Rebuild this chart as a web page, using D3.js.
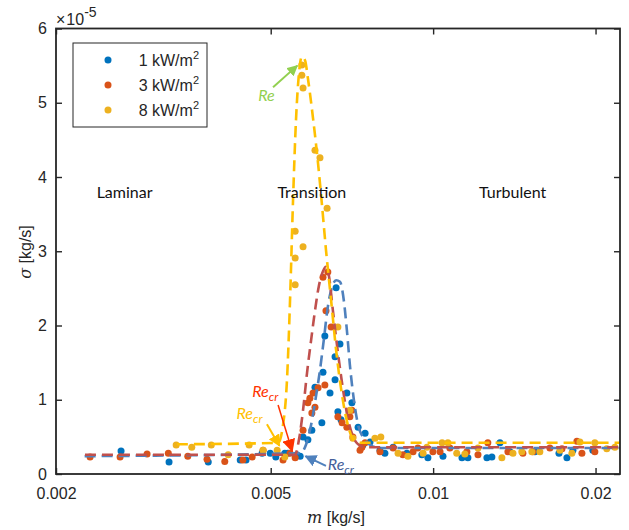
<!DOCTYPE html>
<html>
<head>
<meta charset="utf-8">
<script src="https://cdn.jsdelivr.net/npm/d3@7/dist/d3.min.js"></script>
<style>
  html, body { margin: 0; padding: 0; background: #fff; }
  svg { display: block; }
</style>
</head>
<body>
<svg id="chart" width="629" height="530"></svg>
<script>
// Mass flow rate m [kg/s] and sigma [x1e-5 kg/s] for three heat fluxes
const series1kW_m = [0.00264,0.00324,0.00383,0.00439,0.00450,0.00482,0.00499,0.00511,0.00531,0.00538,0.00559,0.00567,0.00574,0.00586,0.00596,0.00622,0.00604,0.00644,0.00658,0.00625,0.00661,0.00630,0.00672,0.00658,0.00692,0.00707,0.00666,0.00675,0.00726,0.00748,0.00764,0.00741,0.00797,0.00814,0.00843,0.00894,0.00953,0.00978,0.01043,0.01131,0.01160,0.01258,0.01285,0.01330,0.01388,0.01544,0.01711,0.01770,0.01816,0.01977];
const series1kW_s = [0.31,0.16,0.16,0.19,0.19,0.28,0.28,0.23,0.28,0.28,0.26,0.24,0.50,0.46,0.59,0.69,1.17,1.09,1.27,1.37,2.51,1.86,1.75,1.58,1.09,0.96,0.84,0.73,0.63,0.55,0.43,0.39,0.32,0.28,0.36,0.28,0.26,0.22,0.24,0.22,0.22,0.22,0.23,0.42,0.30,0.30,0.28,0.22,0.32,0.32];

const series3kW_m = [0.002313,0.002629,0.00295,0.00323,0.00351,0.00381,0.00411,0.00444,0.00462,0.00484,0.00527,0.00543,0.00555,0.00574,0.00586,0.00591,0.00599,0.00604,0.00596,0.00612,0.00630,0.00638,0.00625,0.00633,0.00647,0.00666,0.00678,0.00692,0.00701,0.00707,0.00710,0.00732,0.00738,0.00748,0.00797,0.00843,0.00879,0.00918,0.00937,0.00999,0.01030,0.01074,0.01155,0.01211,0.01263,0.01376,0.01467,0.01530,0.01646,0.01733,0.01847,0.01887,0.01994];
const series3kW_s = [0.23,0.23,0.27,0.28,0.24,0.20,0.17,0.19,0.23,0.32,0.19,0.28,0.22,0.59,0.96,1.02,1.09,0.90,0.82,1.16,1.20,2.72,2.65,2.20,1.98,0.77,0.69,0.63,0.77,0.86,0.50,0.32,0.36,0.42,0.30,0.35,0.26,0.30,0.35,0.30,0.30,0.35,0.30,0.26,0.42,0.30,0.28,0.30,0.35,0.34,0.44,0.28,0.30];

const series8kW_m = [0.00334,0.00357,0.00388,0.00417,0.00456,0.00484,0.00514,0.00531,0.00555,0.00555,0.00574,0.00555,0.00571,0.00571,0.00574,0.00604,0.00617,0.00636,0.00666,0.00701,0.00710,0.00780,0.00800,0.00861,0.00898,0.00958,0.00974,0.01039,0.01065,0.01106,0.01145,0.01211,0.01341,0.01406,0.01460,0.01524,0.01577,0.01718,0.01808,0.01871,0.01994,0.02098,0.02172];
const series8kW_s = [0.39,0.36,0.39,0.26,0.39,0.32,0.32,0.23,2.55,2.91,3.06,3.27,5.51,5.37,5.20,4.36,4.26,3.58,1.98,0.86,0.48,0.48,0.50,0.28,0.24,0.28,0.36,0.42,0.42,0.28,0.27,0.35,0.22,0.28,0.30,0.30,0.30,0.32,0.28,0.43,0.42,0.34,0.36];

// Fitted trend curves
const fit1kW_m = [0.00226,0.00567,0.00581,0.00594,0.00607,0.00617,0.00627,0.00638,0.00649,0.00661,0.00672,0.00683,0.00692,0.00701,0.00713,0.00726,0.00744,0.00770,0.00797,0.0222];
const fit1kW_s = [0.24,0.28,0.39,0.66,1.06,1.40,1.80,2.25,2.51,2.61,2.59,2.34,1.94,1.47,1.00,0.66,0.48,0.38,0.35,0.35];
const fit3kW_m = [0.002263,0.00555,0.00564,0.00574,0.00584,0.00594,0.00604,0.00614,0.00625,0.00633,0.00641,0.00652,0.00666,0.00681,0.00695,0.00710,0.00726,0.00750,0.0222];
const fit3kW_s = [0.26,0.26,0.46,0.86,1.37,1.80,2.20,2.53,2.73,2.79,2.67,2.20,1.64,1.13,0.75,0.51,0.40,0.36,0.36];
const fit8kW_m = [0.00335,0.00516,0.00527,0.00536,0.00543,0.00550,0.00557,0.00564,0.00571,0.00579,0.00586,0.00599,0.00612,0.00622,0.00633,0.00647,0.00661,0.00678,0.00695,0.00713,0.00738,0.0222];
const fit8kW_s = [0.40,0.42,0.66,1.27,2.34,3.69,4.77,5.39,5.62,5.57,5.33,4.79,4.18,3.64,3.02,2.34,1.67,1.06,0.66,0.46,0.42,0.42];

const seriesNames = ["1 kW/m", "3 kW/m", "8 kW/m"];
const xTickValues = [0.002, 0.005, 0.01, 0.02];
const xTickLabels = ["0.002", "0.005", "0.01", "0.02"];
const yTickValues = [0, 1, 2, 3, 4, 5, 6];
const regionNames = ["Laminar", "Transition", "Turbulent"];
const regionX = [0.00268, 0.00596, 0.01404];

const dotColors = ["#0072BD", "#D95319", "#EDB120"];
const fitColors = ["#4F81BD", "#C0504D", "#FFC000"];

const svg = d3.select("#chart");
const L = 56, R = 620, T = 28.5, B = 474;
const x = d3.scaleLog().domain([0.002, 0.0222]).range([L, R]);
const y = d3.scaleLinear().domain([0, 6]).range([B, T]);
const axisColor = "#262626";
const tickFont = "'Liberation Sans', Arial, sans-serif";

const defs = svg.append("defs");
function arrowMarker(id, color, size) {
  defs.append("marker")
    .attr("id", id).attr("viewBox", "0 0 10 10")
    .attr("refX", 9).attr("refY", 5)
    .attr("markerUnits", "userSpaceOnUse")
    .attr("markerWidth", size).attr("markerHeight", size)
    .attr("orient", "auto")
    .append("path").attr("d", "M0,0 L10,5 L0,10 Z").attr("fill", color);
}
arrowMarker("ah-green", "#92D050", 11);
arrowMarker("ah-red", "#FF3300", 13);
arrowMarker("ah-yellow", "#FFC000", 12);
arrowMarker("ah-blue", "#4F81BD", 12);

svg.append("rect").attr("x", L).attr("y", T).attr("width", R - L).attr("height", B - T).attr("fill", "#fff");

// scatter points
const scatterSets = [
  [series1kW_m, series1kW_s],
  [series3kW_m, series3kW_s],
  [series8kW_m, series8kW_s]
];
scatterSets.forEach(([ms, ss], i) => {
  svg.append("g").selectAll("circle")
    .data(ms.map((m, k) => [m, ss[k]]))
    .join("circle")
    .attr("cx", d => x(d[0])).attr("cy", d => y(d[1]))
    .attr("r", 3.5).attr("fill", dotColors[i]);
});

// dashed trend curves
const fitSets = [
  [fit1kW_m, fit1kW_s],
  [fit3kW_m, fit3kW_s],
  [fit8kW_m, fit8kW_s]
];
const line = d3.line().x(d => x(d[0])).y(d => y(d[1])).curve(d3.curveMonotoneX);
fitSets.forEach(([ms, ss], i) => {
  svg.append("path")
    .datum(ms.map((m, k) => [m, ss[k]]))
    .attr("d", line)
    .attr("fill", "none")
    .attr("stroke", fitColors[i])
    .attr("stroke-width", 2.6)
    .attr("stroke-dasharray", "11,6");
});

// axes with inward ticks
const gx = svg.append("g").attr("transform", `translate(0,${B})`)
  .call(d3.axisBottom(x).tickValues(xTickValues)
    .tickFormat((d, i) => xTickLabels[i]).tickSizeInner(-6).tickSizeOuter(0).tickPadding(14));
const gxt = svg.append("g").attr("transform", `translate(0,${T})`)
  .call(d3.axisTop(x).tickValues(xTickValues).tickFormat("").tickSizeInner(-6).tickSizeOuter(0));
const gy = svg.append("g").attr("transform", `translate(${L},0)`)
  .call(d3.axisLeft(y).tickValues(yTickValues).tickFormat(d3.format("d")).tickSizeInner(-6).tickSizeOuter(0).tickPadding(9));
const gyr = svg.append("g").attr("transform", `translate(${R},0)`)
  .call(d3.axisRight(y).tickValues(yTickValues).tickFormat("").tickSizeInner(-6).tickSizeOuter(0));
[gx, gxt, gy, gyr].forEach(g => {
  g.select(".domain").remove();
  g.selectAll(".tick line").attr("stroke", axisColor).attr("stroke-width", 1.4);
  g.selectAll(".tick text").attr("fill", axisColor).style("font-family", tickFont).style("font-size", "16px");
});
svg.append("rect").attr("x", L).attr("y", T).attr("width", R - L).attr("height", B - T)
  .attr("fill", "none").attr("stroke", axisColor).attr("stroke-width", 1.8);

// exponent label
const expo = svg.append("text").attr("x", 56).attr("y", 25)
  .attr("fill", axisColor).style("font-family", tickFont).style("font-size", "16px");
expo.append("tspan").text("\u00d7");
expo.append("tspan").attr("dx", 1).text("10");
expo.append("tspan").attr("dy", -8).style("font-size", "14px").text("-5");

// axis titles
const xt = svg.append("text").attr("x", 336).attr("y", 523).attr("text-anchor", "middle")
  .attr("fill", axisColor).style("font-size", "16px").style("font-family", tickFont);
xt.append("tspan").style("font-family", "'DejaVu Serif', 'Liberation Serif', serif").style("font-style", "italic").text("m");
xt.append("tspan").text(" [kg/s]");
const yt = svg.append("text").attr("transform", "translate(31,252) rotate(-90)").attr("text-anchor", "middle")
  .attr("fill", axisColor).style("font-size", "16px").style("font-family", tickFont);
yt.append("tspan").style("font-family", "'DejaVu Serif', 'Liberation Serif', serif").style("font-style", "italic").text("\u03c3");
yt.append("tspan").text(" [kg/s]");

// flow regime labels
svg.append("g").selectAll("text").data(regionNames).join("text")
  .attr("x", (d, i) => x(regionX[i])).attr("y", 198).attr("text-anchor", "middle")
  .attr("fill", "#111").style("font-family", "Lato, 'Open Sans', sans-serif").style("font-size", "16px")
  .text(d => d);

// annotations: Reynolds number markers
function reLabel(mx, sy, color, sub) {
  const t = svg.append("text").attr("x", x(mx)).attr("y", y(sy)).attr("fill", color)
    .style("font-family", "Lato, 'Open Sans', sans-serif").style("font-style", "italic").style("font-size", "16px");
  t.append("tspan").text("Re");
  if (sub) t.append("tspan").attr("dy", 4).style("font-size", "12px").text(sub);
}
function arrow(m1, s1, m2, s2, color, marker, w) {
  svg.append("line").attr("x1", x(m1)).attr("y1", y(s1)).attr("x2", x(m2)).attr("y2", y(s2))
    .attr("stroke", color).attr("stroke-width", w).attr("marker-end", `url(#${marker})`);
}
reLabel(0.00474, 5.02, "#92D050", null);
arrow(0.00505, 5.21, 0.00560, 5.50, "#92D050", "ah-green", 2);
reLabel(0.00462, 1.04, "#FF3300", "cr");
arrow(0.00516, 0.93, 0.00548, 0.31, "#FF3300", "ah-red", 1.5);
reLabel(0.00432, 0.74, "#FFC000", "cr");
arrow(0.00492, 0.67, 0.00519, 0.38, "#FFC000", "ah-yellow", 2);
reLabel(0.00638, 0.06, "#44609A", "cr");
arrow(0.00633, 0.11, 0.00580, 0.24, "#4F81BD", "ah-blue", 2);

// legend
const lg = svg.append("g").attr("transform", "translate(73,43)");
lg.append("rect").attr("width", 134).attr("height", 84).attr("fill", "#fff").attr("stroke", axisColor).attr("stroke-width", 1);
seriesNames.forEach((name, i) => {
  const cy = 17 + i * 25;
  lg.append("circle").attr("cx", 35).attr("cy", cy).attr("r", 3.5).attr("fill", dotColors[i]);
  const t = lg.append("text").attr("x", 126).attr("y", cy + 6).attr("text-anchor", "end")
    .attr("fill", axisColor).style("font-family", tickFont).style("font-size", "16px");
  t.append("tspan").text(name);
  t.append("tspan").attr("dy", -7).style("font-size", "11px").text("2");
});
</script>
</body>
</html>
